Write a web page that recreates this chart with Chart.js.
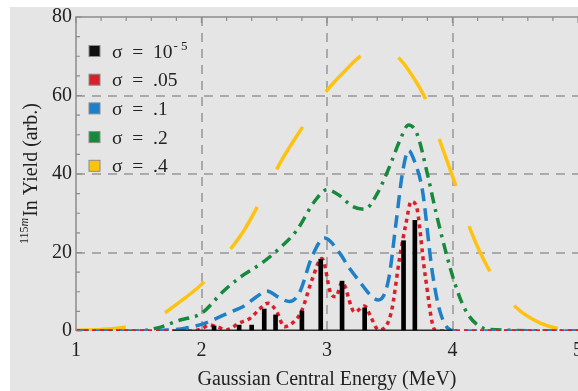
<!DOCTYPE html>
<html lang="en">
<head>
<meta charset="UTF-8">
<title>115mIn Yield vs Gaussian Central Energy</title>
<script src="https://cdn.jsdelivr.net/npm/chart.js"></script>
<style>
  html, body { margin: 0; padding: 0; background: #fff; }
</style>
</head>
<body>
<canvas id="yieldChart" width="578" height="391"></canvas>
<script>
  // sigma = 1e-5 : discrete lines (MeV, yield)
  const lineEnergies = [2.10, 2.30, 2.40, 2.50, 2.59, 2.80, 2.95, 3.12, 3.30, 3.61, 3.70];
  const lineYields   = [1.3, 1.5, 1.5, 5.6, 4.1, 5.1, 18.3, 12.7, 5.9, 23.0, 28.2];
  const baseStart = 1.77, baseEnd = 4.0;

  // sigma = .05
  const redE = [1.0, 1.9, 2.0, 2.06, 2.13, 2.2, 2.3, 2.39, 2.46, 2.53, 2.60, 2.66, 2.75, 2.80, 2.88, 2.96, 3.03, 3.07, 3.12, 3.22, 3.30, 3.35, 3.41, 3.51, 3.58, 3.63, 3.67, 3.71, 3.78, 3.86, 3.95, 5.0];
  const redY = [0, 0, 0.5, 1.5, 1.0, 0.3, 2.0, 3.3, 5.5, 7.1, 4.9, 1.1, 2.8, 5.3, 13.0, 18.5, 9.6, 8.7, 12.4, 4.8, 6.4, 3.5, 0.3, 4.5, 18.9, 27.5, 33.0, 32.0, 14.7, 0.3, 0, 0];

  // sigma = .1
  const blueE = [1.0, 1.5, 1.7, 1.87, 2.02, 2.09, 2.2, 2.35, 2.45, 2.52, 2.62, 2.70, 2.78, 2.88, 2.98, 3.10, 3.17, 3.25, 3.36, 3.41, 3.49, 3.55, 3.60, 3.65, 3.70, 3.76, 3.84, 3.90, 3.99, 4.1, 5.0];
  const blueY = [0, 0, 0.2, 0.7, 1.9, 2.8, 4.4, 6.6, 9.0, 10.2, 8.5, 7.5, 9.7, 18.9, 23.7, 19.9, 16.4, 13.0, 8.7, 7.9, 13.0, 27.5, 40.0, 46.0, 43.0, 35.9, 14.8, 5.0, 0.2, 0, 0];

  // sigma = .2
  const greenE = [1.0, 1.5, 1.65, 1.83, 2.0, 2.17, 2.3, 2.48, 2.62, 2.76, 2.9, 3.0, 3.1, 3.2, 3.3, 3.4, 3.5, 3.58, 3.65, 3.72, 3.8, 3.87, 3.94, 4.02, 4.1, 4.2, 4.3, 5.0];
  const greenY = [0, 0, 0.8, 2.8, 4.5, 10.0, 13.5, 17.3, 21.0, 25.7, 33.0, 36.0, 34.5, 31.8, 31.0, 35.0, 42.0, 48.5, 52.5, 50.0, 40.0, 30.0, 21.0, 12.0, 5.5, 1.5, 0.4, 0];

  // sigma = .4
  const yellowE = [1.0, 1.2, 1.37, 1.55, 1.69, 1.83, 2.01, 2.22, 2.34, 2.5, 2.64, 2.80, 2.99, 3.15, 3.27, 3.42, 3.57, 3.68, 3.79, 3.90, 4.03, 4.14, 4.31, 4.51, 4.7, 4.86, 5.0];
  const yellowY = [0.2, 0.4, 0.9, 2.2, 4.3, 7.5, 12.2, 20.4, 25.7, 35.0, 43.6, 51.7, 60.9, 66.5, 70.1, 72.0, 69.6, 65.0, 58.7, 48.4, 36.7, 26.0, 14.5, 5.9, 2.0, 0.5, 0.2];

  const xTicks = [1, 2, 3, 4, 5];
  const yLabelTicks = [0, 20, 40, 60, 80];

  const legendItems = [
    { label: 'σ\u2002=\u200210', sup: '- 5', color: '#111111' },
    { label: 'σ\u2002=\u2002.05', color: '#d9202a' },
    { label: 'σ\u2002=\u2002.1', color: '#1f80c8' },
    { label: 'σ\u2002=\u2002.2', color: '#17893d' },
    { label: 'σ\u2002=\u2002.4', color: '#ffc30f' }
  ];

  const pts = (xs, ys) => xs.map((x, i) => ({ x: x, y: ys[i] }));
  const serif = '"Liberation Serif", "Times New Roman", serif';

  const framePlugin = {
    id: 'frame',
    beforeDraw(chart) {
      const ctx = chart.ctx;
      ctx.save();
      ctx.fillStyle = '#fff';
      ctx.fillRect(0, 0, chart.width, chart.height);
      ctx.fillStyle = '#e5e5e5';
      ctx.fillRect(10, 7, chart.width - 10, chart.height - 7);
      ctx.restore();
    },
    afterDraw(chart) {
      const ctx = chart.ctx;
      const a = chart.chartArea;
      const xs = chart.scales.x, ys = chart.scales.y;
      ctx.save();
      // frame lines
      ctx.strokeStyle = '#8c8c8c';
      ctx.lineWidth = 1.5;
      ctx.beginPath();
      ctx.moveTo(a.left, a.bottom);
      ctx.lineTo(a.left, a.top);
      ctx.lineTo(a.right, a.top);
      ctx.stroke();
      // minor ticks, pointing inward
      ctx.lineWidth = 1.2;
      ctx.beginPath();
      for (let v = 0; v <= 80; v += 5) {
        const p = ys.getPixelForValue(v);
        const len = v % 20 === 0 ? 6 : 4;
        ctx.moveTo(a.left, p); ctx.lineTo(a.left + len, p);
      }
      for (let k = 0; k <= 20; k++) {
        const v = 1 + k * 0.2;
        const p = xs.getPixelForValue(v);
        const len = k % 5 === 0 ? 6 : 4;
        ctx.moveTo(p, a.top); ctx.lineTo(p, a.top + len);
      }
      ctx.stroke();

      // y axis title with superscript
      ctx.fillStyle = '#222';
      ctx.translate(37, 174);
      ctx.rotate(-Math.PI / 2);
      ctx.textBaseline = 'alphabetic';
      ctx.font = '12px ' + serif;
      const w1 = ctx.measureText('115').width;
      ctx.font = 'italic 12px ' + serif;
      const w2 = ctx.measureText('m').width;
      ctx.font = '20px ' + serif;
      const w3 = ctx.measureText('In Yield (arb.)').width;
      let x0 = -(w1 + w2 + w3) / 2;
      ctx.font = '12px ' + serif;
      ctx.fillText('115', x0, -9);
      ctx.font = 'italic 12px ' + serif;
      ctx.fillText('m', x0 + w1, -9);
      ctx.font = '20px ' + serif;
      ctx.fillText('In Yield (arb.)', x0 + w1 + w2 + 1, 0);
      ctx.restore();

      // legend inside plot
      ctx.save();
      ctx.textBaseline = 'alphabetic';
      legendItems.forEach((it, i) => {
        const cy = 51 + i * 28.7;
        ctx.fillStyle = it.color;
        ctx.fillRect(89, cy - 5.5, 11, 11);
        ctx.strokeStyle = '#8a8a8a';
        ctx.lineWidth = 1;
        ctx.strokeRect(89, cy - 5.5, 11, 11);
        ctx.fillStyle = '#222';
        ctx.font = '19.5px ' + serif;
        ctx.fillText(it.label, 112, cy + 6.5);
        if (it.sup) {
          const w = ctx.measureText(it.label).width;
          ctx.font = '13px ' + serif;
          ctx.fillText(it.sup, 112 + w + 1, cy - 1);
        }
      });
      ctx.restore();
    }
  };

  const ctx = document.getElementById('yieldChart').getContext('2d');
  const chart = new Chart(ctx, {
    data: {
      datasets: [
        {
          type: 'bar',
          label: 'σ = 10-5',
          data: pts(lineEnergies, lineYields),
          backgroundColor: '#000',
          barThickness: 4,
          order: 0
        },
        {
          type: 'line',
          label: 'baseline',
          data: [{ x: baseStart, y: 0 }, { x: baseEnd, y: 0 }],
          borderColor: '#2a2a2a',
          borderWidth: 3,
          pointRadius: 0,
          order: 1
        },
        {
          type: 'line',
          label: 'σ = .05',
          data: pts(redE, redY),
          borderColor: '#d9202a',
          borderWidth: 3.5,
          borderDash: [4, 4],
          pointRadius: 0,
          cubicInterpolationMode: 'monotone',
          order: 2
        },
        {
          type: 'line',
          label: 'σ = .1',
          data: pts(blueE, blueY),
          borderColor: '#1f80c8',
          borderWidth: 3.5,
          borderDash: [13, 7],
          pointRadius: 0,
          cubicInterpolationMode: 'monotone',
          order: 3
        },
        {
          type: 'line',
          label: 'σ = .2',
          data: pts(greenE, greenY),
          borderColor: '#17893d',
          borderWidth: 3.5,
          borderDash: [11, 6, 3, 6],
          pointRadius: 0,
          cubicInterpolationMode: 'monotone',
          order: 4
        },
        {
          type: 'line',
          label: 'σ = .4',
          data: pts(yellowE, yellowY),
          borderColor: '#ffc30f',
          borderWidth: 3.5,
          borderDash: [50, 42],
          pointRadius: 0,
          cubicInterpolationMode: 'monotone',
          order: 5
        }
      ]
    },
    options: {
      responsive: false,
      animation: false,
      layout: { padding: { top: 17, right: 0, left: 0, bottom: 0 } },
      plugins: { legend: { display: false }, tooltip: { enabled: false } },
      scales: {
        x: {
          type: 'linear',
          min: 1,
          max: 5,
          offset: false,
          afterBuildTicks: s => { s.ticks = xTicks.map(v => ({ value: v })); },
          ticks: {
            autoSkip: false,
            maxRotation: 0,
            padding: 8,
            color: '#222',
            font: { family: serif, size: 20 }
          },
          grid: {
            offset: false,
            drawTicks: false,
            lineWidth: 2,
            color: c => (c.tick && [2, 3, 4].includes(c.tick.value)) ? '#aaaaaa' : 'rgba(0,0,0,0)'
          },
          border: { display: false, dash: [9, 7] },
          title: {
            display: true,
            text: 'Gaussian Central Energy (MeV)',
            color: '#222',
            font: { family: serif, size: 20, lineHeight: 1.1 },
            padding: { top: 0, bottom: 0 }
          },
          afterFit: s => { s.height = 60; s.paddingRight = 0; s.paddingLeft = 0; }
        },
        y: {
          min: 0,
          max: 80,
          ticks: {
            stepSize: 5,
            autoSkip: false,
            padding: 4,
            color: '#222',
            font: { family: serif, size: 20 },
            callback: v => yLabelTicks.includes(v) ? String(v) : ''
          },
          grid: {
            drawTicks: false,
            lineWidth: 2,
            color: c => (c.tick && [20, 40, 60].includes(c.tick.value)) ? '#aaaaaa' : 'rgba(0,0,0,0)'
          },
          border: { display: false, dash: [9, 7] },
          afterFit: s => { s.width = 76; }
        }
      }
    },
    plugins: [framePlugin]
  });
</script>
</body>
</html>
